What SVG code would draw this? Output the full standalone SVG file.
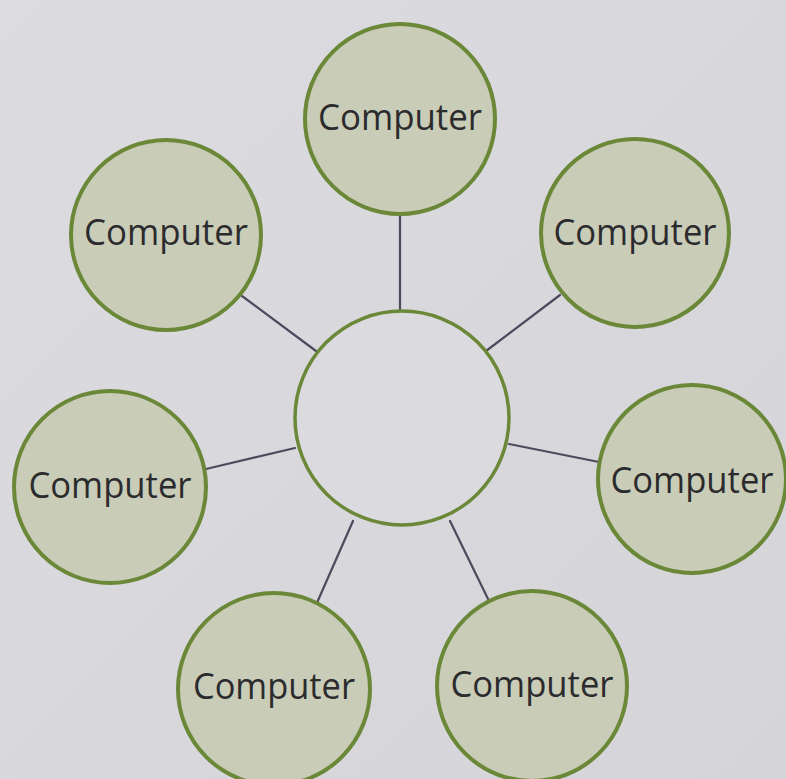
<svg xmlns="http://www.w3.org/2000/svg" width="786" height="779" viewBox="0 0 786 779">
  <style>
    .pc { fill: #c9ccb7; stroke: #6a8838; stroke-width: 4; }
    .hub { fill: #dbdadf; stroke: #6a8838; stroke-width: 3.5; }
    .link { stroke: #4b4b5e; stroke-width: 2.2; stroke-linecap: round; fill: none; }
    .lbl { font-family: "Open Sans", "Noto Sans", "Liberation Sans", sans-serif; font-size: 36px; fill: #2b2b2e; text-anchor: middle; }
  </style>
  <defs>
    <linearGradient id="paper" x1="0" y1="0" x2="1" y2="1">
      <stop offset="0" stop-color="#dcdbe0"/>
      <stop offset="1" stop-color="#d5d4d9"/>
    </linearGradient>
  </defs>
  <rect width="786" height="779" fill="url(#paper)"/>

  <!-- links from the hub out to each computer -->
  <g id="connectors">
    <line class="link" x1="400" y1="216" x2="400" y2="310"/>
    <line class="link" x1="242" y1="296" x2="316" y2="351"/>
    <line class="link" x1="560" y1="295" x2="486" y2="351"/>
    <line class="link" x1="206" y1="469" x2="295" y2="448"/>
    <line class="link" x1="509" y1="444" x2="599" y2="462"/>
    <line class="link" x1="353" y1="521" x2="316" y2="605"/>
    <line class="link" x1="450" y1="521" x2="490" y2="603"/>
  </g>

  <g id="hub">
    <circle class="hub" cx="402" cy="418" r="107"/>
  </g>

  <g id="computer-top">
    <circle class="pc" cx="400" cy="119" r="95"/>
    <text class="lbl" x="400" y="130" textLength="164" lengthAdjust="spacingAndGlyphs">Computer</text>
  </g>
  <g id="computer-top-left">
    <circle class="pc" cx="166" cy="235" r="95"/>
    <text class="lbl" x="166" y="245" textLength="164" lengthAdjust="spacingAndGlyphs">Computer</text>
  </g>
  <g id="computer-top-right">
    <circle class="pc" cx="635" cy="233" r="94"/>
    <text class="lbl" x="635" y="245" textLength="163" lengthAdjust="spacingAndGlyphs">Computer</text>
  </g>
  <g id="computer-left">
    <circle class="pc" cx="110" cy="487" r="96"/>
    <text class="lbl" x="110" y="498" textLength="163" lengthAdjust="spacingAndGlyphs">Computer</text>
  </g>
  <g id="computer-right">
    <circle class="pc" cx="692" cy="479" r="94"/>
    <text class="lbl" x="692" y="493" textLength="163" lengthAdjust="spacingAndGlyphs">Computer</text>
  </g>
  <g id="computer-bottom-left">
    <circle class="pc" cx="274" cy="689" r="96"/>
    <text class="lbl" x="274" y="699" textLength="162" lengthAdjust="spacingAndGlyphs">Computer</text>
  </g>
  <g id="computer-bottom-right">
    <circle class="pc" cx="532" cy="686" r="95"/>
    <text class="lbl" x="532" y="697" textLength="163" lengthAdjust="spacingAndGlyphs">Computer</text>
  </g>
</svg>
